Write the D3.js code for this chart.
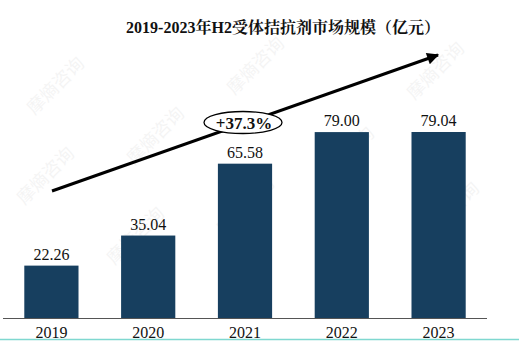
<!DOCTYPE html>
<html><head><meta charset="utf-8">
<script src="https://cdn.jsdelivr.net/npm/d3@7/dist/d3.min.js"></script>
<style>body{margin:0;background:#fff}svg{display:block}</style>
</head><body>
<script>
const categories = ["2019","2020","2021","2022","2023"];
const values = [22.26, 35.04, 65.58, 79.00, 79.04];
const labels = ["22.26","35.04","65.58","79.00","79.04"];
const title = "2019-2023年H2受体拮抗剂市场规模（亿元）";
const growth = "+37.3%";

const W = 519, H = 341;
const svg = d3.select("body").append("svg").attr("width", W).attr("height", H);
const serif = "'Liberation Serif','Times New Roman','Noto Serif CJK SC','Noto Sans CJK SC',serif";

// watermark
const wm = [[60,90],[160,140],[260,70],[440,75],[50,180],[140,240],[250,210],[350,160],[455,215]];
svg.append("g").selectAll("text").data(wm).join("text")
  .attr("transform", d => `translate(${d[0]},${d[1]}) rotate(-45)`)
  .attr("text-anchor","middle").attr("font-family","'Noto Sans CJK SC'")
  .attr("font-size",18).attr("fill","#000").attr("opacity",0.04).text("摩熵咨询");

const x = d3.scaleBand().domain(categories).range([3, 487]).paddingInner(0.44).paddingOuter(0.22);
const y = d3.scaleLinear().domain([0, 79.04]).range([318, 132]);

svg.append("g").selectAll("rect").data(values).join("rect")
  .attr("x", (d,i) => x(categories[i])).attr("width", x.bandwidth())
  .attr("y", d => y(d)).attr("height", d => y(0) - y(d))
  .attr("fill", "#173f5f");

svg.append("g").selectAll("text").data(values).join("text")
  .attr("x", (d,i) => x(categories[i]) + x.bandwidth()/2)
  .attr("y", d => y(d) - 6)
  .attr("text-anchor","middle").attr("font-family",serif).attr("font-size",16).attr("fill","#111")
  .text((d,i) => labels[i]);

const ax = svg.append("g").attr("transform","translate(0,318)").call(d3.axisBottom(x).tickSize(0).tickPadding(0));
ax.select(".domain").attr("stroke","#555").attr("stroke-width",1.2).attr("d","M3,0.5H487");
ax.selectAll(".tick text").attr("font-family",serif).attr("font-size",16).attr("fill","#111").attr("dy",null).attr("y",20);

// bottom cyan line
svg.append("line").attr("x1",0).attr("x2",W).attr("y1",339.5).attr("y2",339.5).attr("stroke","#7fd8d0").attr("stroke-width",1.5);

// title
svg.append("text").attr("x",283).attr("y",33).attr("text-anchor","middle")
  .attr("font-family",serif).attr("font-size",16).attr("font-weight","bold").attr("fill","#111").text(title);

// arrow
svg.append("defs").append("marker").attr("id","ah").attr("viewBox","0 0 10 10").attr("refX",9).attr("refY",5)
  .attr("markerWidth",5).attr("markerHeight",4).attr("orient","auto").attr("markerUnits","strokeWidth")
  .append("path").attr("d","M0,0L10,5L0,10z").attr("fill","#000");
svg.append("line").attr("x1",52).attr("y1",191).attr("x2",438).attr("y2",55)
  .attr("stroke","#000").attr("stroke-width",3).attr("marker-end","url(#ah)");

svg.append("ellipse").attr("cx",243).attr("cy",122.5).attr("rx",39).attr("ry",11)
  .attr("fill","#fff").attr("stroke","#000").attr("stroke-width",1.3);
svg.append("text").attr("x",244).attr("y",128.5).attr("text-anchor","middle")
  .attr("font-family",serif).attr("font-size",17).attr("font-weight","bold").attr("fill","#111").text(growth);
</script>
</body></html>
